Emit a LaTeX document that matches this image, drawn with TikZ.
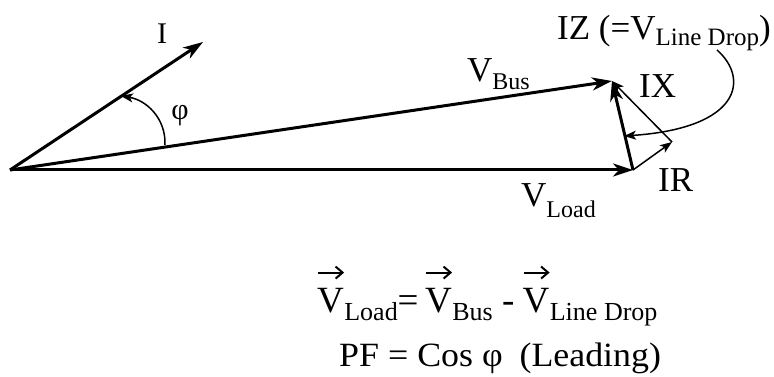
\documentclass[tikz,border=0pt]{standalone}
\usepackage{fontspec}
\setmainfont{Liberation Serif}
\usetikzlibrary{arrows.meta}
\newcommand{\bigtxt}{\fontsize{35}{35}\selectfont}
\newcommand{\smltxt}{\fontsize{24}{24}\selectfont}
\newcommand{\eqsub}{\fontsize{26}{26}\selectfont}
\begin{document}
\begin{tikzpicture}[x=1pt,y=-1pt,
  vec/.style={line width=3pt,-{Stealth[length=20pt,width=13pt,inset=6pt]}},
  thinvec/.style={line width=1.5pt,-{Stealth[length=12pt,width=9pt,inset=3pt]}},
  ovarrow/.style={line width=2pt,-{Straight Barb[length=7pt,width=12pt]}},
  lbl/.style={inner sep=0pt,font=\bigtxt},
  eq/.style={inner sep=0pt,anchor=base west,font=\fontsize{37}{37}\selectfont}]
\useasboundingbox (0,0) rectangle (774,377);
\coordinate (O) at (10,170);
\coordinate (L) at (633,170);
\coordinate (B) at (612,81);
\coordinate (R) at (672,142);
\coordinate (It) at (203,42);
\coordinate (a1) at (165,145);
\coordinate (a2) at (121,96);
\coordinate (c1) at (717,50);
\coordinate (c2) at (624,136);
\draw[vec] (O) -- (It);
\draw[vec] (O) -- (B);
\draw[vec] (O) -- (L);
\draw[vec] (L) -- (B);
\draw[thinvec] (L) -- (R);
\draw[thinvec] (R) -- (B);
\draw[thinvec] (a1) .. controls (166,118) and (146,100) .. (a2);
\draw[thinvec] (c1) .. controls (749,78) and (742,128) .. (c2);
\node[lbl,font=\fontsize{30}{30}\selectfont] (ilbl) at (162,34) {I};
\node[lbl,font=\fontsize{30}{30}\selectfont] (phi) at (180,116) {φ};
\node[lbl,anchor=base west] (vbus) at (467,82) {V\raisebox{-8pt}{\smltxt Bus}};
\node[lbl,anchor=base west] (vload) at (521,207) {V\raisebox{-10pt}{\smltxt Load}};
\node[lbl,anchor=base west] (ix) at (639,98) {IX};
\node[lbl,anchor=base west] (ir) at (658,191) {IR};
\node[lbl,anchor=base west] (iz) at (557,40) {IZ (=V\raisebox{-6pt}{\fontsize{25}{25}\selectfont Line Drop})};
% equation line 1
\node[eq] (ev1) at (317,312) {V};
\node[eq] (es1) at (ev1.base east) {\raisebox{-8pt}{\eqsub Load}=\,};
\node[eq] (ev2) at (es1.base east) {V};
\node[eq] (es2) at (ev2.base east) {\raisebox{-8pt}{\eqsub Bus}\ -};
\node[eq] (ev3) at ([xshift=8pt]es2.base east) {V};
\node[eq] (es3) at (ev3.base east) {\raisebox{-8pt}{\eqsub Line Drop}};
\foreach \v in {ev1,ev2,ev3}{
  \draw[ovarrow] ([xshift=1pt,yshift=15pt]\v.north west) -- ([xshift=0pt,yshift=15pt]\v.north east);
}
\node[eq,font=\fontsize{34}{34}\selectfont] (eq2) at (339,366)
  {\scalebox{1.055}[1]{PF = Cos φ\hspace{16pt}(Leading)}};
\end{tikzpicture}
\end{document}
